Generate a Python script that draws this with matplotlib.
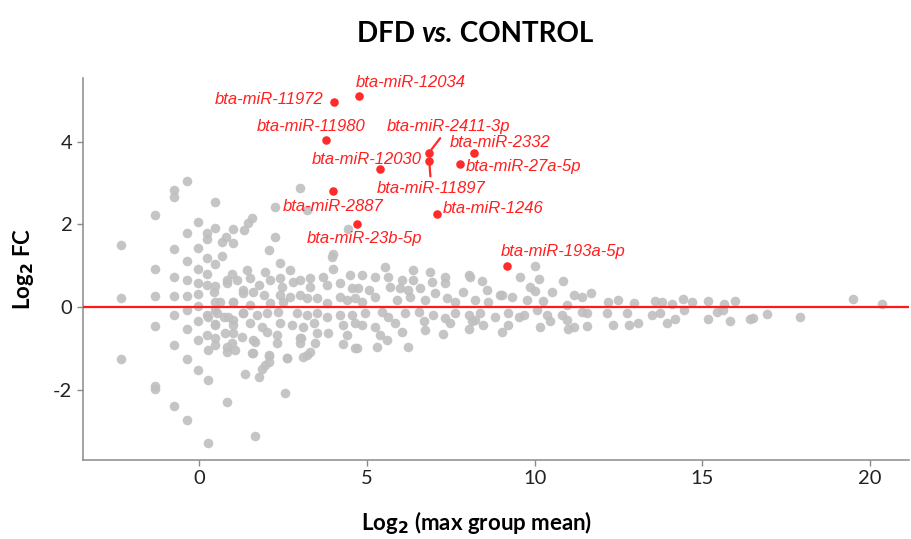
import matplotlib
matplotlib.use("Agg")
import matplotlib.pyplot as plt

plt.rcParams['axes.unicode_minus'] = False

# grey (non significant) miRNAs: log2 max group mean, log2 FC
base_mean = [
    -0.35, -0.74, -0.74, 0.48, -1.31, -2.32, -2.32, -2.32, -1.31, -1.31,
    -1.31, -1.31, -1.31, -0.74, -0.74, -0.74, -0.74, -0.74, -0.74, -0.35,
    -0.35, -0.35, -0.35, -0.35, -0.35, -0.35, -0.35, -0.02, -0.02, -0.02,
    -0.02, -0.02, -0.02, -0.02, -0.02, -0.02, 0.23, 0.23, 0.23, 0.23,
    0.23, 0.25, 0.25, 0.25, 0.25, 0.48, 0.48, 0.48, 0.48, 0.48,
    0.48, 0.48, 0.68, 0.68, 0.73, 0.80, 0.83, 0.83, 0.83, 0.83,
    1.00, 1.00, 0.97, 1.02, 1.00, 1.02, 1.07, 1.34, 1.47, 1.57,
    1.42, 1.32, 1.32, 1.62, 1.57, 1.37, 1.77, 1.87, 1.97, 2.07,
    2.07, 1.67, 2.56, 2.27, 2.07, 2.27, 3.01, 2.41, 2.61, 3.11,
    3.03,
    # dense block 0-5
    2.71, 4.00, 3.95, 4.50, 1.97, 0.83, 1.12, 1.52, 1.77, 2.12,
    2.41, 2.46, 2.81, 3.01, 3.31, 3.31, 3.70, 3.81, 4.20, 4.55,
    0.43, 1.32, 1.62, 1.92, 2.41, 2.71, 3.01, 3.21, 3.51, 4.20,
    4.40, 4.65, 1.02, 0.63, 1.52, 2.12, 2.51, 3.81,
    0.23, 0.53, 0.87, 1.32, 1.72, 2.02, 2.36, 2.91, 3.21, 3.51,
    3.81, 4.20, 4.55, 0.48, 1.02, 1.52, 1.87, 2.41, 2.76, 3.11,
    3.41, 4.30, 4.65, 0.23, 0.77, 1.27, 2.02, 2.32, 3.01, 3.51,
    3.85, 4.40, 0.48, 0.97, 1.67, 2.32, 3.01, 3.46, 4.30, 4.65,
    1.62, 2.07, 2.61, 3.21, 3.31,
    # block 5-10
    5.54, 6.39, 6.89, 4.85, 5.25, 5.64, 6.04, 6.39, 6.94, 7.33,
    7.33, 8.03, 8.43, 4.75, 5.05, 5.69, 5.99, 6.24, 6.59, 7.03,
    7.88, 8.58, 9.02, 9.32, 5.25, 5.89, 6.29, 6.74, 7.38, 7.63,
    8.23, 8.62, 4.85,
    4.95, 5.45, 5.64, 6.14, 6.54, 6.98, 7.33, 7.63, 8.03, 8.38,
    8.82, 9.22, 9.52, 4.85, 5.25, 5.84, 6.04, 6.69, 7.48, 8.13,
    8.47, 9.22, 5.39, 6.74, 7.28, 8.03, 9.02, 5.59, 6.24, 5.30,
    4.70,
    3.21, 4.45, 3.99, 8.08, 9.57, 9.87, 8.97, 8.23,
    # block 10-21
    10.01, 10.14, 10.84, 10.01, 10.51, 11.16, 11.41, 11.68, 9.77, 10.26,
    10.96, 12.20, 12.50, 12.95, 13.59, 13.79, 14.09, 14.42, 14.68, 15.18,
    15.65, 15.98, 19.50, 20.35,
    9.67, 10.07, 10.36, 10.16, 10.46, 10.81, 10.96, 11.01, 11.16, 11.41,
    11.56, 11.56, 12.15, 12.35, 12.75, 12.80, 13.09, 13.49, 13.74, 13.94,
    14.19, 14.44, 15.18, 15.43, 15.63, 15.83, 16.42, 16.52, 16.92, 17.91,
]
log_fc = [
    3.04, 2.83, 2.66, 2.54, 2.22, 1.50, 0.22, -1.26, 0.92, 0.27,
    -0.45, -1.92, -1.98, 1.40, 0.73, 0.27, -0.19, -0.92, -2.39, 1.78,
    1.11, 0.65, 0.27, -0.07, -0.54, -1.26, -2.73, 2.05, 1.42, 0.93,
    0.57, 0.31, 0.02, -0.34, -0.81, -1.52, 1.78, 1.64, 1.18, 0.81,
    0.53, -0.23, -1.04, -1.76, -3.29, 1.92, 1.03, 0.51, 0.13, -0.07,
    -0.42, -0.76, 1.23, 1.58, -0.23, 1.70, 0.57, -0.96, -1.10, -2.29,
    1.88, 1.56, 0.81, 0.13, -0.31, -0.64, -1.04, 1.86, 2.02, 2.16,
    0.89, 0.41, -0.15, -0.80, -1.12, -1.62, -1.70, -1.51, -1.40, -1.32,
    -1.18, -3.12, -2.07, 1.70, 1.39, 2.42, 2.87, 1.06, -1.24, -1.22,
    -0.76,
    0.89, 0.93, 1.22, 0.77, 0.85, 0.65, 0.65, 0.69, 0.53, 0.65,
    0.69, 0.49, 0.61, 0.65, 0.69, 0.49, 0.73, 0.53, 0.57, 0.45,
    0.37, 0.33, 0.37, 0.29, 0.29, 0.25, 0.29, 0.21, 0.21, 0.25,
    0.17, 0.21, 0.13, 0.13, 0.05, 0.09, 0.13, 0.09,
    -0.19, -0.15, -0.23, -0.15, -0.19, -0.15, -0.11, -0.15, -0.19, -0.15,
    -0.23, -0.19, -0.19, -0.43, -0.43, -0.39, -0.48, -0.39, -0.43, -0.48,
    -0.39, -0.43, -0.39, -0.68, -0.64, -0.72, -0.60, -0.68, -0.76, -0.64,
    -0.64, -0.68, -0.92, -0.88, -0.84, -0.88, -0.88, -0.88, -0.90, -1.00,
    -1.12, -1.16, -1.24, -1.16, -1.08,
    0.97, 0.89, 0.85, 0.77, 0.73, 0.73, 0.65, 0.65, 0.61, 0.73,
    0.57, 0.77, 0.63, 0.45, 0.41, 0.49, 0.45, 0.41, 0.45, 0.33,
    0.37, 0.41, 0.29, 0.25, 0.25, 0.17, 0.25, 0.17, 0.21, 0.13,
    0.17, 0.13, 0.13,
    -0.15, -0.11, -0.23, -0.15, -0.11, -0.19, -0.27, -0.15, -0.19, -0.15,
    -0.23, -0.15, -0.23, -0.43, -0.48, -0.39, -0.60, -0.35, -0.39, -0.35,
    -0.43, -0.43, -0.68, -0.56, -0.66, -0.52, -0.61, -0.80, -0.96, -0.96,
    -1.00,
    2.34, 1.88, 1.28, 0.73, 0.73, 0.49, 0.29, -0.31,
    0.99, 0.67, 0.64, 0.39, 0.37, 0.29, 0.25, 0.33, 0.17, 0.15,
    0.05, 0.13, 0.17, 0.09, 0.15, 0.13, 0.07, 0.19, 0.13, 0.15,
    0.07, 0.15, 0.19, 0.07,
    -0.19, -0.07, -0.19, -0.48, -0.35, -0.19, -0.31, -0.52, -0.48, -0.11,
    -0.46, -0.15, -0.15, -0.43, -0.15, -0.43, -0.38, -0.19, -0.15, -0.38,
    -0.30, -0.07, -0.30, -0.11, -0.07, -0.33, -0.30, -0.27, -0.17, -0.23,
]

# significant miRNAs
sig_names = ['bta-miR-12034', 'bta-miR-11972', 'bta-miR-11980', 'bta-miR-2411-3p',
             'bta-miR-11897', 'bta-miR-12030', 'bta-miR-2332', 'bta-miR-27a-5p',
             'bta-miR-2887', 'bta-miR-23b-5p', 'bta-miR-1246', 'bta-miR-193a-5p']
sig_mean = [4.77, 4.02, 3.79, 6.85, 6.86, 5.40, 8.20, 7.77, 3.98, 4.71, 7.10, 9.17]
sig_fc = [5.11, 4.97, 4.04, 3.73, 3.53, 3.33, 3.73, 3.45, 2.80, 2.00, 2.25, 1.00]

# label offsets in pixels and whether a leader line is drawn
offsets = [(52, 13), (-65, 2), (-15, 13), (20, 26), (2, -27), (-14, 10),
           (26, 10), (64, -2), (0, -15), (7, -14), (56, 5), (56, 14)]
leader = [False, False, False, True, True, False,
          False, False, False, False, False, False]

fig = plt.figure(figsize=(9.11, 5.39), dpi=100)
ax = fig.add_axes([0.0908, 0.1466, 0.907, 0.708])

ax.scatter(base_mean, log_fc, s=48, color='#bfbfbf', alpha=0.9,
           linewidths=0, zorder=2)
ax.axhline(0, color='#ff1a1a', lw=1.6, zorder=3)
ax.scatter(sig_mean, sig_fc, s=38, color='#ff2a2a', linewidths=0, zorder=4)

for name, x, y, off, ln in zip(sig_names, sig_mean, sig_fc, offsets, leader):
    kw = {}
    if ln:
        kw['arrowprops'] = dict(arrowstyle='-', color='#ff2a2a', lw=1.6,
                                shrinkA=1, shrinkB=3)
    ax.annotate(name, (x, y), xytext=off, textcoords='offset pixels',
                ha='center', va='center', color='#ff2020', fontsize=12,
                style='italic', family='Liberation Sans', zorder=5, **kw)

ax.set_xlim(-3.47, 21.16)
ax.set_ylim(-3.70, 5.53)
ax.set_xticks([0, 5, 10, 15, 20])
ax.set_yticks([-2, 0, 2, 4])
for s in ['top', 'right']:
    ax.spines[s].set_visible(False)
for s in ['left', 'bottom']:
    ax.spines[s].set_color('#8a8a8a')
    ax.spines[s].set_linewidth(1.1)
ax.tick_params(colors='#8a8a8a', labelcolor='#222222', length=4, width=1,
               labelsize=14.5)
for lab in ax.get_xticklabels() + ax.get_yticklabels():
    lab.set_family('Lato')

ax.set_xlabel('Log$_{\\mathbf{2}}$ (max group mean)', fontsize=16,
              fontweight='bold', family='Lato')
ax.xaxis.set_label_coords(0.477, -0.128)
ax.set_ylabel('Log$_{\\mathbf{2}}$ FC', fontsize=16, fontweight='bold',
              family='Lato', labelpad=12)

# title with italic "vs."
parts = [('DFD ', 'normal'), ('vs.', 'italic'), (' CONTROL', 'normal')]
r = fig.canvas.get_renderer()
texts = []
for txt, st in parts:
    t = fig.text(0, 0.922, txt, fontsize=20, fontweight='bold', style=st,
                 family='Lato', va='baseline', color='black')
    texts.append(t)
widths = [t.get_window_extent(r).width for t in texts]
x0 = 475 - sum(widths) / 2
for t, w in zip(texts, widths):
    t.set_x(x0 / 911)
    x0 += w

fig.savefig('out.png', dpi=100)
